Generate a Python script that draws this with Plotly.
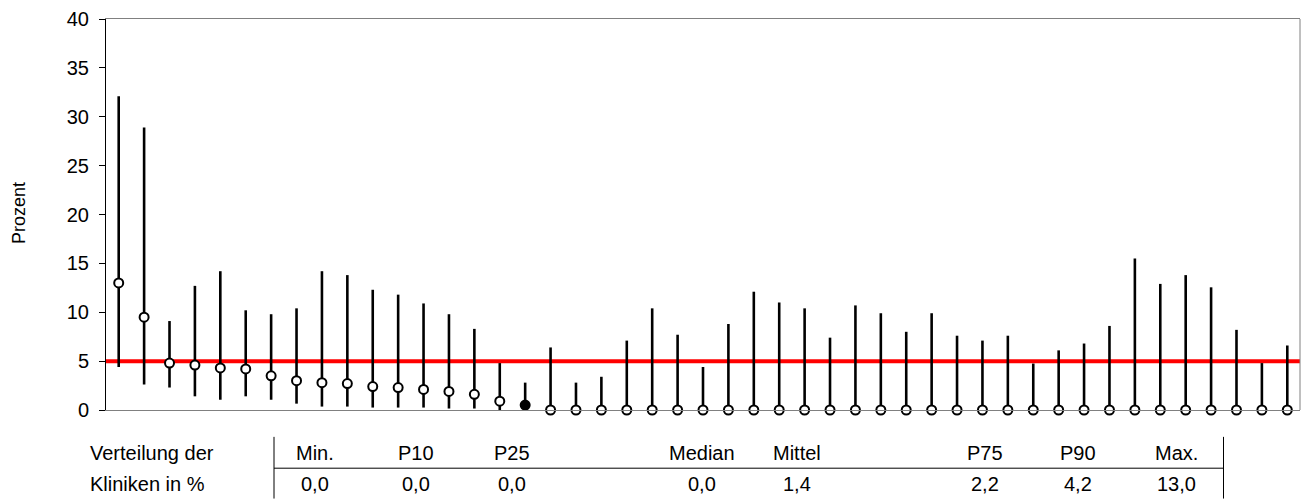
import plotly.graph_objects as go

# ---- data ----
clinics = list(range(1, 48))
values = [13.0, 9.5, 4.8, 4.6, 4.3, 4.2, 3.5, 3.0, 2.8, 2.7, 2.4, 2.3, 2.1, 1.9, 1.6, 0.9, 0.5,
          0.0, 0.0, 0.0, 0.0, 0.0, 0.0, 0.0, 0.0, 0.0, 0.0, 0.0, 0.0, 0.0, 0.0, 0.0,
          0.0, 0.0, 0.0, 0.0, 0.0, 0.0, 0.0, 0.0, 0.0, 0.0, 0.0, 0.0, 0.0, 0.0, 0.0]
lower = [4.4, 2.6, 2.3, 1.4, 1.05, 1.4, 1.05, 0.65, 0.35, 0.35, 0.25, 0.25, 0.25, 0.15, 0.15, 0.0, 0.0,
         0.0, 0.0, 0.0, 0.0, 0.0, 0.0, 0.0, 0.0, 0.0, 0.0, 0.0, 0.0, 0.0, 0.0, 0.0,
         0.0, 0.0, 0.0, 0.0, 0.0, 0.0, 0.0, 0.0, 0.0, 0.0, 0.0, 0.0, 0.0, 0.0, 0.0]
upper = [32.1, 28.9, 9.1, 12.7, 14.2, 10.2, 9.8, 10.4, 14.2, 13.8, 12.3, 11.8, 10.9, 9.8, 8.3, 4.8, 2.8,
         6.4, 2.8, 3.4, 7.1, 10.4, 7.7, 4.4, 8.8, 12.1, 11.0, 10.4, 7.4, 10.7, 9.9, 8.0,
         9.9, 7.6, 7.1, 7.6, 4.75, 6.1, 6.8, 8.6, 15.5, 12.9, 13.8, 12.55, 8.2, 4.8, 6.6]
highlighted_clinic = 17
reference_value = 5.0

y_ticks = [0, 5, 10, 15, 20, 25, 30, 35, 40]
table_headers = ["Min.", "P10", "P25", "Median", "Mittel", "P75", "P90", "Max."]
table_values = ["0,0", "0,0", "0,0", "0,0", "1,4", "2,2", "4,2", "13,0"]
table_label_1 = "Verteilung der"
table_label_2 = "Kliniken in %"
y_title = "Prozent"

# ---- layout geometry (pixels) ----
W, H = 1308, 499
L, R, T, B = 106, 8, 17, 89
pw, ph = W - L - R, H - T - B
def px(xp):
    return (xp - L) / pw
def py(yp):
    return (H - B - yp) / ph

FONT = "Liberation Sans, Arial, sans-serif"
TXT = 20

err_plus = [u - v for u, v in zip(upper, values)]
err_minus = [v - l for v, l in zip(values, lower)]
fill_colors = ["black" if c == highlighted_clinic else "white" for c in clinics]

fig = go.Figure()
fig.add_trace(go.Scatter(
    x=clinics, y=values, mode="markers", cliponaxis=False,
    marker=dict(size=9, color=fill_colors, line=dict(color="black", width=2)),
    error_y=dict(type="data", symmetric=False, array=err_plus, arrayminus=err_minus,
                 color="black", thickness=2.6, width=0),
    showlegend=False, hoverinfo="skip",
))

shapes = [
    dict(type="line", xref="x domain", yref="y", x0=0, x1=1, y0=reference_value, y1=reference_value,
         line=dict(color="#ff0000", width=4), layer="below"),
    dict(type="line", xref="x domain", yref="y domain", x0=1, x1=1, y0=0, y1=1,
         line=dict(color="#808080", width=1)),
]

# table lines
x_tab_l, x_tab_r = 274, 1223.5
y_hline = 468.5
shapes += [
    dict(type="line", xref="paper", yref="paper", x0=px(x_tab_l), x1=px(x_tab_r), y0=py(y_hline), y1=py(y_hline),
         line=dict(color="black", width=1)),
    dict(type="line", xref="paper", yref="paper", x0=px(x_tab_l), x1=px(x_tab_l), y0=py(437), y1=py(499),
         line=dict(color="black", width=1)),
    dict(type="line", xref="paper", yref="paper", x0=px(x_tab_r), x1=px(x_tab_r), y0=py(437), y1=py(499),
         line=dict(color="black", width=1)),
]

col_x = [315, 416, 512, 702, 797, 985, 1078, 1176]
row1_y, row2_y = 453, 484

annotations = [
    dict(text=y_title, xref="paper", yref="paper", x=px(19), y=py(212), textangle=-90,
         showarrow=False, font=dict(family=FONT, size=18, color="black"), xanchor="center", yanchor="middle"),
    dict(text=table_label_1, xref="paper", yref="paper", x=px(88), y=py(row1_y), showarrow=False,
         xanchor="left", yanchor="middle", font=dict(family=FONT, size=TXT, color="black")),
    dict(text=table_label_2, xref="paper", yref="paper", x=px(88), y=py(row2_y), showarrow=False,
         xanchor="left", yanchor="middle", font=dict(family=FONT, size=TXT, color="black")),
]
for cx, h, v in zip(col_x, table_headers, table_values):
    annotations.append(dict(text=h, xref="paper", yref="paper", x=px(cx), y=py(row1_y), showarrow=False,
                            xanchor="center", yanchor="middle", font=dict(family=FONT, size=TXT, color="black")))
    annotations.append(dict(text=v, xref="paper", yref="paper", x=px(cx), y=py(row2_y), showarrow=False,
                            xanchor="center", yanchor="middle", font=dict(family=FONT, size=TXT, color="black")))

fig.update_layout(
    width=W, height=H,
    margin=dict(l=L, r=R, t=T, b=B, pad=0),
    paper_bgcolor="white", plot_bgcolor="white",
    shapes=shapes, annotations=annotations,
    font=dict(family=FONT, size=TXT, color="black"),
    xaxis=dict(range=[0.5, 47.5], showticklabels=False, ticks="", showgrid=False, zeroline=False,
               showline=True, linecolor="#808080", linewidth=1, mirror=True, fixedrange=True),
    yaxis=dict(range=[0, 40], tickvals=y_ticks, ticks="outside", ticklen=6, tickcolor="black", tickwidth=1,
               ticklabelstandoff=6,
               showgrid=False, zeroline=False, showline=True, linecolor="black", linewidth=1,
               tickfont=dict(family=FONT, size=20, color="black"), fixedrange=True),
)

fig.write_html("out.html", config={"displayModeBar": False})
